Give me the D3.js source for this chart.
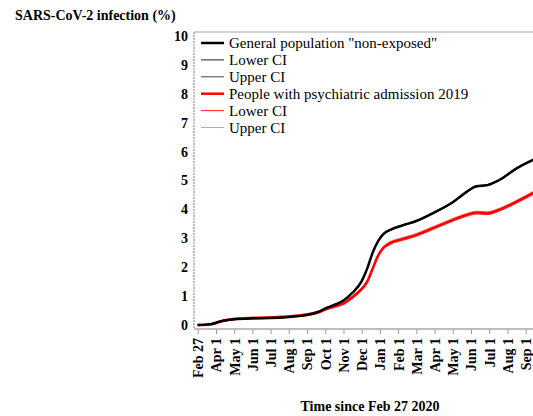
<!DOCTYPE html>
<html>
<head>
<meta charset="utf-8">
<script src="https://cdn.jsdelivr.net/npm/d3@7"></script>
<style>
  body { margin: 0; background: #fff; }
  svg text { font-family: "Liberation Serif", "Times New Roman", serif; fill: #000; }
</style>
</head>
<body>
<svg id="chart" width="533" height="416"></svg>
<script>
// months since Feb 27 2020 (tick spacing is one per month)
const months = [0, 0.7, 1.4, 2, 3, 4, 5, 6, 6.6, 7.1, 7.6, 8, 8.5, 9, 9.3, 9.6, 9.9, 10.2, 10.6, 11.2, 12, 13, 14, 14.7, 15.3, 15.9, 16.5, 17.5, 18.5];

const generalPop = [0, 0.03, 0.15, 0.2, 0.23, 0.24, 0.28, 0.35, 0.45, 0.6, 0.72, 0.85, 1.12, 1.52, 1.95, 2.5, 2.9, 3.15, 3.3, 3.44, 3.6, 3.9, 4.25, 4.58, 4.8, 4.84, 5.0, 5.42, 5.74];
const generalLower = [0, 0.02, 0.14, 0.19, 0.22, 0.23, 0.27, 0.34, 0.44, 0.59, 0.71, 0.84, 1.11, 1.5, 1.93, 2.48, 2.88, 3.13, 3.28, 3.42, 3.58, 3.88, 4.23, 4.56, 4.78, 4.82, 4.98, 5.4, 5.72];
const generalUpper = [0, 0.04, 0.16, 0.21, 0.24, 0.25, 0.29, 0.36, 0.46, 0.61, 0.73, 0.86, 1.13, 1.54, 1.97, 2.52, 2.92, 3.17, 3.32, 3.46, 3.62, 3.92, 4.27, 4.6, 4.82, 4.86, 5.02, 5.44, 5.76];

const psychAdm = [0, 0.02, 0.15, 0.21, 0.24, 0.26, 0.29, 0.36, 0.44, 0.57, 0.66, 0.75, 0.97, 1.25, 1.5, 1.95, 2.4, 2.68, 2.85, 2.97, 3.12, 3.38, 3.64, 3.8, 3.89, 3.87, 3.98, 4.27, 4.6];
const psychLower = [0, 0.0, 0.12, 0.18, 0.21, 0.23, 0.26, 0.32, 0.4, 0.53, 0.62, 0.71, 0.92, 1.2, 1.45, 1.9, 2.35, 2.63, 2.8, 2.92, 3.07, 3.33, 3.59, 3.75, 3.84, 3.82, 3.93, 4.22, 4.55];
const psychUpper = [0, 0.04, 0.18, 0.24, 0.27, 0.29, 0.32, 0.4, 0.48, 0.61, 0.7, 0.79, 1.02, 1.3, 1.55, 2.0, 2.45, 2.73, 2.9, 3.02, 3.17, 3.43, 3.69, 3.85, 3.94, 3.92, 4.03, 4.32, 4.65];

const tickLabels = ["Feb 27", "Apr 1", "May 1", "Jun 1", "Jul 1", "Aug 1", "Sep 1", "Oct 1", "Nov 1", "Dec 1", "Jan 1", "Feb 1", "Mar 1", "Apr 1", "May 1", "Jun 1", "Jul 1", "Aug 1", "Sep 1"];
const yTicks = [0, 1, 2, 3, 4, 5, 6, 7, 8, 9, 10];

const seriesNames = ["General population \"non-exposed\"", "Lower CI", "Upper CI", "People with psychiatric admission 2019", "Lower CI", "Upper CI"];
const seriesValues = [generalPop, generalLower, generalUpper, psychAdm, psychLower, psychUpper];
const seriesColors = ["#000", "#222", "#444", "#ff0000", "#ff2020", "#ff8a8a"];
const seriesWidths = [2.5, 1, 1, 2.5, 1, 1];

const svg = d3.select("#chart");

const frame = { left: 194, top: 32, bottom: 329, right: 545 };

const x = d3.scaleLinear().domain([0, 18]).range([197.7, 525.7]);
const y = d3.scaleLinear().domain([0, 10]).range([325, 36]);

// title
svg.append("text")
  .attr("x", 15).attr("y", 20)
  .attr("font-size", 14).attr("font-weight", "bold")
  .text("SARS-CoV-2 infection (%)");

// frame
svg.append("line")
  .attr("x1", frame.left).attr("x2", frame.right)
  .attr("y1", frame.top).attr("y2", frame.top)
  .attr("stroke", "#a8a8a8").attr("stroke-width", 1.2);
svg.append("line")
  .attr("x1", frame.left).attr("x2", frame.left)
  .attr("y1", frame.top).attr("y2", frame.bottom)
  .attr("stroke", "#a8a8a8").attr("stroke-width", 1.5)
  .attr("stroke-dasharray", "2,1");

// y axis labels
svg.append("g").selectAll("text")
  .data(yTicks)
  .join("text")
  .attr("x", 188)
  .attr("y", d => y(d))
  .attr("dy", "0.35em")
  .attr("text-anchor", "end")
  .attr("font-size", 14).attr("font-weight", "bold")
  .text(d => d);

// x axis
const xAxis = d3.axisBottom(x)
  .tickValues(d3.range(tickLabels.length))
  .tickFormat(i => tickLabels[i])
  .tickSize(5)
  .tickSizeOuter(0);

const gx = svg.append("g")
  .attr("transform", `translate(0,${frame.bottom})`)
  .call(xAxis);
gx.select(".domain").remove();
gx.append("line")
  .attr("x1", frame.left).attr("x2", frame.right)
  .attr("stroke", "#a8a8a8").attr("stroke-width", 1.5);
gx.selectAll(".tick line").attr("stroke", "#999");
gx.selectAll(".tick text")
  .attr("font-family", "Liberation Serif, serif")
  .attr("font-size", 14).attr("font-weight", "bold")
  .attr("fill", "#000")
  .attr("transform", "rotate(-90)")
  .attr("text-anchor", "end")
  .attr("x", -9).attr("y", 0).attr("dy", "0.35em");

svg.append("text")
  .attr("x", 370).attr("y", 411)
  .attr("text-anchor", "middle")
  .attr("font-size", 14).attr("font-weight", "bold")
  .text("Time since Feb 27 2020");

// lines
svg.append("clipPath").attr("id", "clip")
  .append("rect")
  .attr("x", frame.left).attr("y", frame.top)
  .attr("width", frame.right - frame.left).attr("height", frame.bottom - frame.top);

const line = d3.line()
  .x((d, i) => x(months[i]))
  .y(d => y(d))
  .curve(d3.curveMonotoneX);

const drawOrder = [5, 4, 3, 2, 1, 0];
svg.append("g").attr("clip-path", "url(#clip)")
  .selectAll("path")
  .data(drawOrder)
  .join("path")
  .attr("d", k => line(seriesValues[k]))
  .attr("fill", "none")
  .attr("stroke", k => seriesColors[k])
  .attr("stroke-width", k => seriesWidths[k]);

// legend
const legend = svg.append("g");
const rows = legend.selectAll("g")
  .data(seriesNames)
  .join("g")
  .attr("transform", (d, i) => `translate(0,${43 + i * 16.9})`);
rows.append("line")
  .attr("x1", 201).attr("x2", 224)
  .attr("stroke", (d, i) => seriesColors[i])
  .attr("stroke-width", (d, i) => seriesWidths[i] === 1 ? 1 : 2.5);
rows.append("text")
  .attr("x", 229)
  .attr("dy", "0.35em")
  .attr("font-size", 15)
  .text(d => d);
</script>
</body>
</html>
